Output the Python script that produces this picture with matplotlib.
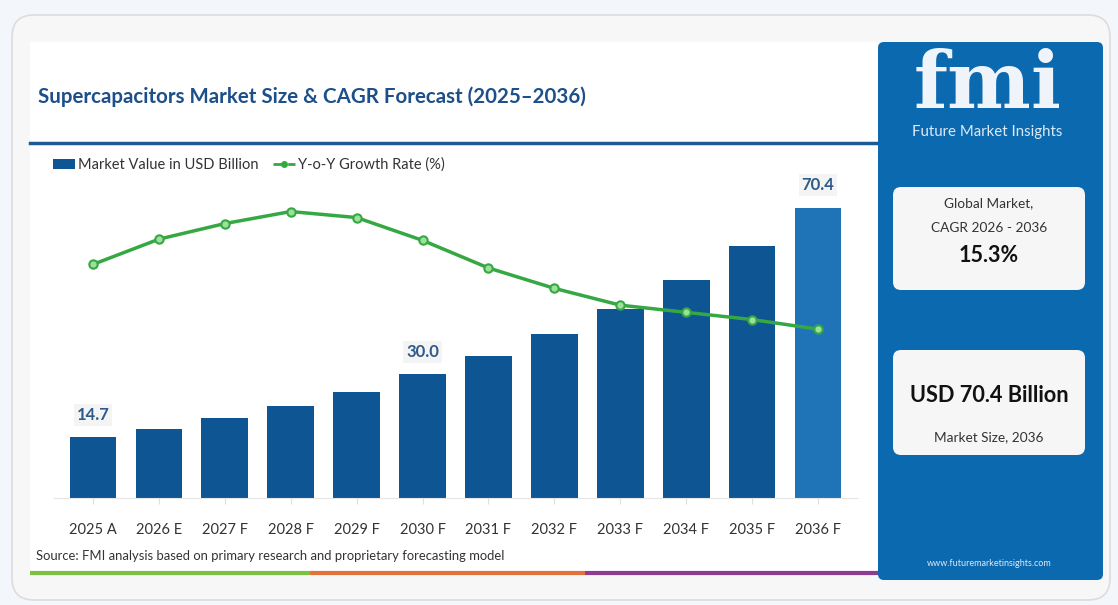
import matplotlib
matplotlib.use("Agg")
import matplotlib.pyplot as plt
from matplotlib.patches import FancyBboxPatch, Rectangle
from matplotlib.lines import Line2D

years = ["2025 A", "2026 E", "2027 F", "2028 F", "2029 F", "2030 F",
         "2031 F", "2032 F", "2033 F", "2034 F", "2035 F", "2036 F"]
market_value = [14.7, 16.7, 19.4, 22.3, 25.7, 30.0, 34.5, 39.8, 45.9, 52.9, 61.2, 70.4]
growth_rate = [11.3, 13.4, 14.7, 15.7, 15.2, 13.3, 11.0, 9.3, 7.9, 7.3, 6.7, 5.9]
labelled = {0: "14.7", 5: "30.0", 11: "70.4"}

W, H = 1118, 605
fig = plt.figure(figsize=(W / 100, H / 100), dpi=100)
fig.patch.set_facecolor("#f3f6fb")

# background layer in pixel coords
bg = fig.add_axes([0, 0, 1, 1])
bg.set_xlim(0, W)
bg.set_ylim(H, 0)
bg.axis("off")

bg.add_patch(FancyBboxPatch((12, 15), 1098, 585, boxstyle="round,pad=0,rounding_size=22",
                            fc="#f7f7f7", ec="#dcdcdc", lw=1.2))
bg.add_patch(Rectangle((30, 42), 848, 533, fc="white", ec="none"))
bg.plot([30, 878], [143, 143], color="#1a5a96", lw=2.5)
# bottom colour strip
bg.plot([30, 310], [573, 573], color="#7cc242", lw=3, solid_capstyle="butt")
bg.plot([310, 585], [573, 573], color="#e2723a", lw=3, solid_capstyle="butt")
bg.plot([585, 878], [573, 573], color="#8e3c93", lw=3, solid_capstyle="butt")

# right panel
bg.add_patch(FancyBboxPatch((878, 42), 225, 538, boxstyle="round,pad=0,rounding_size=6",
                            fc="#0b69b0", ec="none"))
bg.text(988, 86, "fmi", color="#eef4fa", fontsize=57, fontweight="bold", family="DejaVu Serif",
        ha="center", va="center")
bg.text(987, 132, "Future Market Insights", color="#dceaf7", fontsize=10.8, ha="center",
        va="center", family="Lato")
for (y0, hgt) in [(187, 103), (350, 105)]:
    bg.add_patch(FancyBboxPatch((893, y0), 192, hgt, boxstyle="round,pad=0,rounding_size=8",
                                fc="#f6f6f6", ec="none"))
bg.text(989, 203, "Global Market,", fontsize=9.8, color="#333333", ha="center", va="center",
        family="Lato")
bg.text(989, 228, "CAGR 2026 - 2036", fontsize=9.8, color="#333333", ha="center", va="center",
        family="Lato")
bg.text(989, 255, "15.3%", fontsize=15.5, fontweight="bold", color="#111111", ha="center",
        va="center", family="Lato")
bg.text(989, 395, "USD 70.4 Billion", fontsize=15.7, fontweight="bold", color="#111111",
        ha="center", va="center", family="Lato")
bg.text(989, 437, "Market Size, 2036", fontsize=9.8, color="#333333", ha="center", va="center",
        family="Lato")
bg.text(989, 563, "www.futuremarketinsights.com", fontsize=6.5, color="#dceaf7",
        ha="center", va="center", family="Lato")

bg.text(38, 97, "Supercapacitors Market Size & CAGR Forecast (2025\u20132036)", fontsize=14.8,
        fontweight="bold", color="#1d4f8a", ha="left", va="center", family="Lato")
bg.text(36, 556, "Source: FMI analysis based on primary research and proprietary forecasting model",
        fontsize=9.4, color="#333333", ha="left", va="center", family="Lato")

# chart
ax = fig.add_axes([53.5 / W, 107 / H, 804 / W, 330 / H])
ax.patch.set_alpha(0)
x = list(range(len(years)))
colors = ["#0d5593"] * (len(years) - 1) + ["#1f74b7"]
ax.bar(x, market_value, width=0.71, color=colors, zorder=2)
ax.set_xlim(-0.6, 11.6)
ax.set_ylim(0, 80)
ax.set_xticks(x)
ax.set_xticklabels(years, fontsize=10.5, color="#333333", family="Lato")
ax.tick_params(axis="x", length=4, color="#dddddd", pad=14)
ax.set_yticks([])
for s in ["top", "right", "left"]:
    ax.spines[s].set_visible(False)
ax.spines["bottom"].set_color("#e6e6e6")
for i, txt in labelled.items():
    ax.text(i, market_value[i] + 3.5, txt, ha="center", va="bottom", fontsize=12,
            fontweight="bold", color="#2d5a8a", family="Lato",
            bbox=dict(fc="#f4f4f4", ec="none", pad=2))

ax2 = ax.twinx()
ax2.plot(x, growth_rate, color="#36a843", lw=2.5, marker="o", markersize=6,
         markerfacecolor="#9be09b", markeredgecolor="#36a843", markeredgewidth=1.5, zorder=3)
ax2.set_ylim(-8.17, 19.33)
ax2.set_yticks([])
for s in ax2.spines.values():
    s.set_visible(False)

handles = [Rectangle((0, 0), 1, 1, fc="#0d5593"),
           Line2D([0], [0], color="#36a843", lw=2, ls="--", marker="o", markersize=4,
                  markerfacecolor="#36a843")]
fig.legend(handles, ["Market Value in USD Billion", "Y-o-Y Growth Rate (%)"],
           loc="center left", bbox_to_anchor=(40 / W, 1 - 165 / H), frameon=False,
           prop={"family": "Lato", "size": 10.5}, ncol=2, handlelength=1.5, handletextpad=0.2,
           columnspacing=1.0, labelcolor="#333333")

fig.savefig("out.png", dpi=100, facecolor=fig.get_facecolor())
